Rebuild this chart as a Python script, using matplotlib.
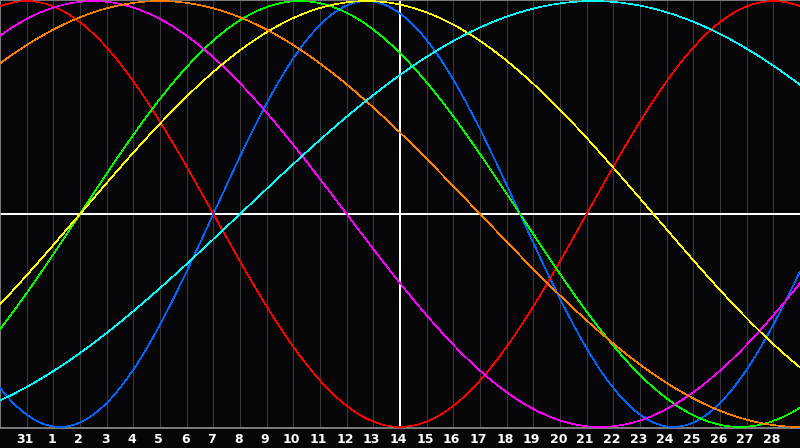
import numpy as np
import matplotlib
matplotlib.use('Agg')
import matplotlib.pyplot as plt

# Biorhythm cycles
cycles = ['Physical', 'Emotional', 'Intellectual', 'Intuitive', 'Aesthetic', 'Awareness', 'Spiritual']
periods = [23, 28, 33, 38, 43, 48, 53]
# days into each cycle at the left edge of the chart
phase_at_start = [15, 6, 30, 6, 40, 6, 44]
colors = ['#0064ff', '#ff0000', '#00ff00', '#ff00ff', '#ffff00', '#ff8000', '#00ffff']

# day labels for the grid lines 1..29
day_labels = ['31'] + [str(d) for d in range(1, 29)]
n_days = 30
today = 15  # grid index of the highlighted day

fig = plt.figure(figsize=(8, 4.48), dpi=100, facecolor='#060608')
ax = fig.add_axes([0, 20 / 448, 1, 428 / 448])
ax.set_facecolor('#060608')

# day grid
for k in range(1, n_days):
    ax.axvline(k, color='#3a3a3a', lw=0.5, antialiased=False, zorder=1)

t = np.linspace(0, n_days, 3000)
for name, p, ph, c in zip(cycles, periods, phase_at_start, colors):
    y = np.sin(2 * np.pi * (t + ph) / p)
    ax.plot(t, y, color=c, lw=0.45, antialiased=False, zorder=3, label=name)

# today marker and zero line
ax.axvline(today, color='white', lw=1.1, antialiased=False, zorder=2)
ax.axhline(0, color='white', lw=1.1, antialiased=False, zorder=2)

ax.set_xlim(0, n_days)
ax.set_ylim(-1.005, 1.005)
ax.set_xticks([])
ax.set_yticks([])
for side in ['left', 'top', 'bottom']:
    ax.spines[side].set_color('#909090')
    ax.spines[side].set_linewidth(1.2)
ax.spines['right'].set_visible(False)

for k, lab in enumerate(day_labels, start=1):
    fig.text(k / n_days - 0.002, 8.5 / 448, lab, color='white', fontsize=9, fontweight='bold',
             ha='center', va='center', family='DejaVu Sans')

plt.savefig('out.png', dpi=100, facecolor=fig.get_facecolor())
plt.close()
